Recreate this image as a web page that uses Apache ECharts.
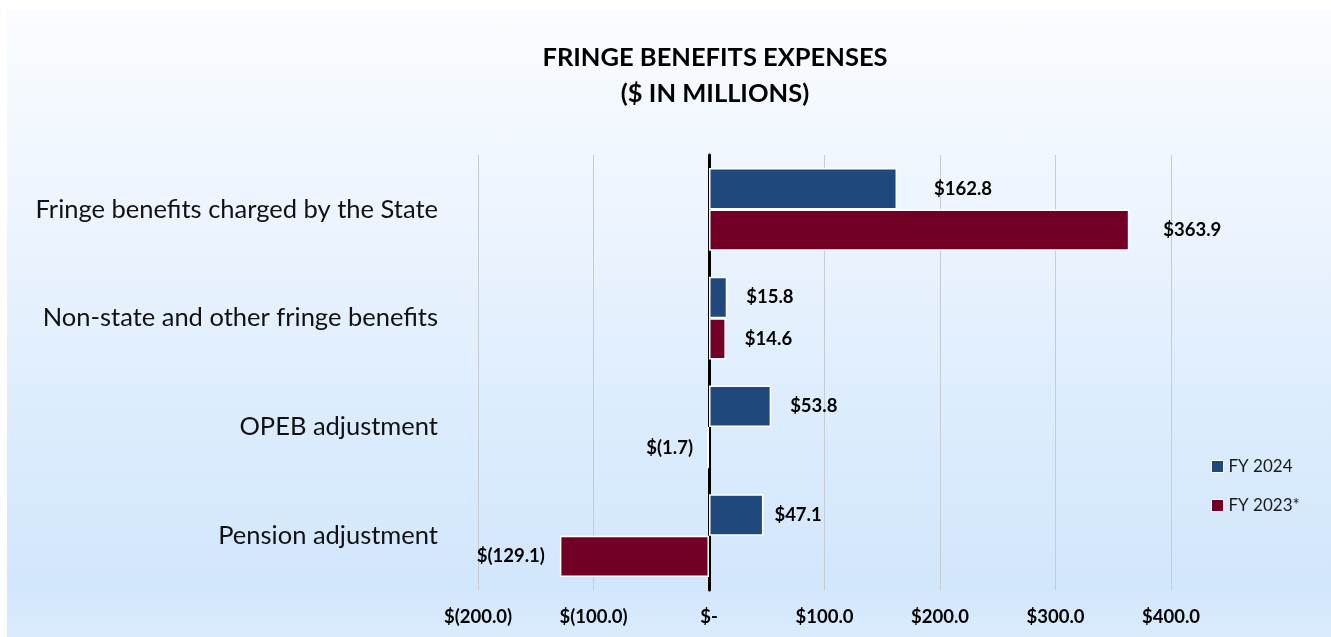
<!DOCTYPE html>
<html>
<head>
<meta charset="utf-8">
<script src="https://cdn.jsdelivr.net/npm/echarts@6/dist/echarts.min.js"></script>
<style>
  html, body { margin: 0; padding: 0; background: #ffffff; }
  #wrap { position: relative; width: 1331px; height: 637px; overflow: hidden; background: #ffffff; }
  #panel { position: absolute; left: 7px; top: 10px; width: 1324px; height: 627px;
    background: linear-gradient(to bottom, #fafcff 0%, #eef5fe 30%, #dcecfd 65%, #d2e6fc 92%, #dbebfd 100%); }
  #chart { position: absolute; left: 0; top: 0; width: 1331px; height: 637px; }
</style>
</head>
<body>
<div id="wrap">
  <div id="panel"></div>
  <div id="chart"></div>
</div>
<script>
const titleLines = ['FRINGE BENEFITS EXPENSES', '($ IN MILLIONS)'];
const categories = [
  'Fringe benefits charged by the State',
  'Non-state and other fringe benefits',
  'OPEB adjustment',
  'Pension adjustment'
];
const seriesNames = ['FY 2024', 'FY 2023*'];
const fy2024 = [162.8, 15.8, 53.8, 47.1];
const fy2023 = [363.9, 14.6, -1.7, -129.1];
const xTicks = [-200, -100, 0, 100, 200, 300, 400];

const FONT = 'Lato, "Open Sans", sans-serif';

function money(v) {
  if (Math.abs(v) < 1e-9) return '$-';
  if (v < 0) return '$(' + Math.abs(v).toFixed(1) + ')';
  return '$' + v.toFixed(1);
}

function buildData(values, distances) {
  return values.map((v, i) => ({
    value: v,
    label: { position: v < 0 ? 'left' : 'right', distance: distances[i] }
  }));
}

const chart = echarts.init(document.getElementById('chart'), null, { renderer: 'canvas' });
chart.setOption({
  backgroundColor: 'transparent',
  animation: false,
  title: {
    text: titleLines.join('\n'),
    left: 710,
    textAlign: 'center',
    top: 35,
    padding: 5,
    textStyle: { fontFamily: FONT, fontSize: 25.5, fontWeight: 'bold', color: '#000', lineHeight: 36 }
  },
  legend: {
    orient: 'vertical',
    left: 1206,
    top: 453,
    itemWidth: 12,
    itemHeight: 12,
    itemGap: 22,
    icon: 'rect',
    data: seriesNames,
    textStyle: { fontFamily: FONT, fontSize: 17, color: '#1a1a1a' },
    itemStyle: { borderColor: '#ffffff', borderWidth: 1 }
  },
  grid: { left: 478, right: 160, top: 155, bottom: 47, containLabel: false },
  xAxis: {
    type: 'value',
    min: xTicks[0],
    max: xTicks[xTicks.length - 1],
    interval: 100,
    axisLine: { show: false },
    axisTick: { show: false },
    splitLine: { show: true, lineStyle: { color: '#c6ccd4', width: 1 } },
    axisLabel: {
      formatter: money,
      fontFamily: FONT, fontSize: 18.5, fontWeight: 'bold', color: '#000', margin: 18
    }
  },
  yAxis: {
    type: 'category',
    data: categories,
    inverse: true,
    axisLine: { show: true, onZero: true, lineStyle: { color: '#000', width: 3 } },
    axisTick: { show: false },
    axisLabel: { fontFamily: FONT, fontSize: 25.5, color: '#111', margin: 40 }
  },
  series: [
    {
      name: seriesNames[0],
      type: 'bar',
      data: buildData(fy2024, [37, 19, 19, 11]),
      barGap: '0%',
      barCategoryGap: '24%',
      itemStyle: { color: '#1f497d', borderColor: '#ffffff', borderWidth: 1.5 },
      label: {
        show: true, formatter: p => money(p.value),
        fontFamily: FONT, fontSize: 18.5, fontWeight: 'bold', color: '#000'
      }
    },
    {
      name: seriesNames[1],
      type: 'bar',
      data: buildData(fy2023, [34, 19, 14, 15]),
      barGap: '0%',
      barCategoryGap: '24%',
      itemStyle: { color: '#720026', borderColor: '#ffffff', borderWidth: 1.5 },
      label: {
        show: true, formatter: p => money(p.value),
        fontFamily: FONT, fontSize: 18.5, fontWeight: 'bold', color: '#000'
      }
    }
  ]
});
</script>
</body>
</html>
